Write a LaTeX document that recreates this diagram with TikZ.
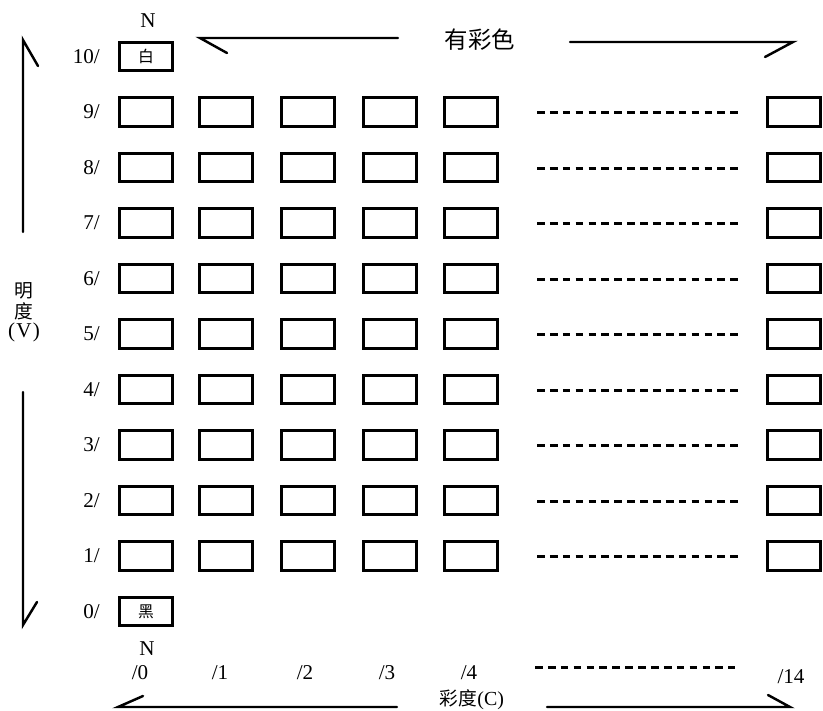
\documentclass[tikz,border=0pt]{standalone}
\usepackage{fontspec}
\setmainfont{Liberation Serif}
\newfontfamily\cjk{Noto Sans CJK SC}
\begin{document}
\begin{tikzpicture}[x=0.03cm,y=-0.03cm,
  cbox/.style={draw, line width=2.5pt, minimum width=45pt, minimum height=24pt, inner sep=0pt},
  lbl/.style={font=\fontsize{18}{20}\selectfont, inner sep=0pt},
  cjklbl/.style={font=\cjk\fontsize{20}{22}\selectfont, inner sep=0pt},
  arr/.style={line width=2.1pt, line cap=round},
  dashline/.style={line width=1.75pt, dash pattern=on 6.5pt off 4.5pt}]
\useasboundingbox (0,0) rectangle (823,711);
% rows 1..9
\foreach \r in {1,...,9}{
  \pgfmathsetmacro\yy{611.5-55.5*\r}
  \pgfmathsetmacro\yd{round(611.5-55.5*\r)+0.5}
  \node[lbl, anchor=east] (v\r) at (100,\yy) {\r/};
  \foreach \c/\xx in {0/146,1/226,2/308,3/390,4/471,14/794}{
    \node[cbox] (b\r-\c) at (\xx,\yy) {};
  }
  \coordinate (dl\r) at (537,\yd);
  \coordinate (dr\r) at (740,\yd);
  \draw[dashline] (dl\r) -- (dr\r);
}
% row 10 and row 0
\node[lbl, anchor=east] (v10) at (100,56.5) {10/};
\node[cbox, font=\cjk\fontsize{13.5}{15}\selectfont] (white) at (146,56.5) {白};
\node[lbl, anchor=east] (v0) at (100,611.5) {0/};
\node[cbox, font=\cjk\fontsize{13.5}{15}\selectfont] (black) at (146,611.5) {黑};
% top labels
\node[lbl] (ntop) at (148,21) {N};
\node[cjklbl] (chrom) at (480,40) {有彩色};
\coordinate (tl) at (200,38);
\coordinate (tle) at (398,38);
\coordinate (tlb) at (227,53);
\draw[arr] (tle) -- (tl) -- (tlb);
\coordinate (tr) at (793,42);
\coordinate (trs) at (570,42);
\coordinate (trb) at (765,57);
\draw[arr] (trs) -- (tr) -- (trb);
% vertical arrows
\coordinate (vt) at (23,40);
\coordinate (vte) at (23,232);
\coordinate (vtb) at (38,66);
\draw[arr] (vte) -- (vt) -- (vtb);
\coordinate (vb) at (23,625);
\coordinate (vbs) at (23,392);
\coordinate (vbb) at (37,602);
\draw[arr] (vbs) -- (vb) -- (vbb);
\node[font=\cjk\fontsize{16}{18}\selectfont, inner sep=0pt] (ming) at (24,291) {明};
\node[font=\cjk\fontsize{16}{18}\selectfont, inner sep=0pt] (du) at (24,311) {度};
\node[lbl] (vv) at (24,332) {(\kern1pt V\kern1pt)};
% bottom labels
\node[lbl] (nbot) at (147,649) {N};
\node[lbl] (c0) at (140,673) {/0};
\node[lbl] (c1) at (220,673) {/1};
\node[lbl] (c2) at (305,673) {/2};
\node[lbl] (c3) at (387,673) {/3};
\node[lbl] (c4) at (469,673) {/4};
\node[lbl] (c14) at (791,677) {/14};
\coordinate (bdl) at (535,667.5);
\coordinate (bdr) at (735,667.5);
\draw[dashline] (bdl) -- (bdr);
% bottom arrows
\coordinate (bl) at (118,707);
\coordinate (ble) at (397,707);
\coordinate (blb) at (143,696);
\draw[arr] (ble) -- (bl) -- (blb);
\coordinate (br) at (790,707);
\coordinate (brs) at (547,707);
\coordinate (brb) at (768,695);
\draw[arr] (brs) -- (br) -- (brb);
\node[anchor=south, inner sep=0pt] (chroma) at (472,710) {{\cjk\fontsize{16}{18}\selectfont 彩度}{\fontsize{17}{18}\selectfont(C)}};
\end{tikzpicture}
\end{document}
